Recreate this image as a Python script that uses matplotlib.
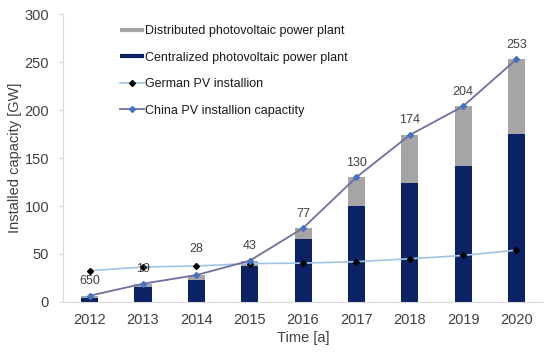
import matplotlib
matplotlib.use("Agg")
import matplotlib.pyplot as plt
from matplotlib.lines import Line2D
import numpy as np

plt.rcParams['font.family'] = ['Liberation Sans', 'DejaVu Sans']

years = ['2012', '2013', '2014', '2015', '2016', '2017', '2018', '2019', '2020']
centralized = [4, 16, 23, 37, 66, 100, 124, 142, 175]
china_total = [6.5, 19, 28, 43, 77, 130, 174, 204, 253]
distributed = [t - c for t, c in zip(china_total, centralized)]
german = [32.5, 36.5, 37.5, 40, 40.5, 42, 45, 48.5, 54]
value_labels = ['650', '19', '28', '43', '77', '130', '174', '204', '253']

navy = '#0b2265'
grey = '#a5a5a5'
german_col = '#9dc3e6'
china_col = '#6f6f9f'
china_marker = '#4472c4'
text_col = '#404040'

fig = plt.figure(figsize=(5.5, 3.54), dpi=100)
ax = fig.add_axes([0.1145, 0.147, 0.873, 0.813])

x = np.arange(len(years))
ax.bar(x, centralized, width=0.32, color=navy, zorder=2)
ax.bar(x, distributed, width=0.32, bottom=centralized, color=grey, zorder=2)
ax.plot(x, german, color=german_col, lw=1.2, marker='D', ms=3,
        mfc='black', mec='black', zorder=3)
ax.plot(x, china_total, color=china_col, lw=1.3, marker='D', ms=3,
        mfc=china_marker, mec=china_marker, zorder=4)

# labels above the China line
for i, lab in enumerate(value_labels):
    dy = 19 if i == 2 else 10.5
    ax.annotate(lab, (x[i], china_total[i]), xytext=(0, dy), textcoords='offset points',
                ha='center', va='center', fontsize=9, color=text_col)

ax.set_xlim(-0.5, len(years) - 0.5)
ax.set_ylim(0, 300)
ax.set_yticks(range(0, 301, 50))
ax.set_xticks(x)
ax.set_xticklabels(years)
ax.tick_params(axis='x', length=0, labelsize=10.5, colors=text_col, pad=8)
ax.tick_params(axis='y', length=3, labelsize=10.5, colors=text_col, pad=7, color='#d9d9d9')
for s in ['top', 'right']:
    ax.spines[s].set_visible(False)
for s in ['left', 'bottom']:
    ax.spines[s].set_color('#d9d9d9')

ax.set_xlabel('Time [a]', fontsize=10.5, color=text_col, labelpad=3)
ax.set_ylabel('Installed capacity [GW]', fontsize=10.5, color=text_col, labelpad=2)

handles = [
    Line2D([], [], color=grey, lw=3, solid_capstyle='butt'),
    Line2D([], [], color=navy, lw=3, solid_capstyle='butt'),
    Line2D([], [], color=german_col, lw=1.2, marker='D', ms=3, mfc='black', mec='black'),
    Line2D([], [], color=china_col, lw=1.3, marker='D', ms=3, mfc=china_marker, mec=china_marker),
]
names = ['Distributed photovoltaic power plant', 'Centralized photovoltaic power plant',
         'German PV installion', 'China PV installion capactity']
ax.legend(handles, names, loc='upper left', bbox_to_anchor=(0.095, 1.0), frameon=False,
          fontsize=9, handlelength=1.9, handletextpad=0.15, labelspacing=1.15,
          labelcolor='#1a1a1a')

fig.savefig('out.png', dpi=100)
